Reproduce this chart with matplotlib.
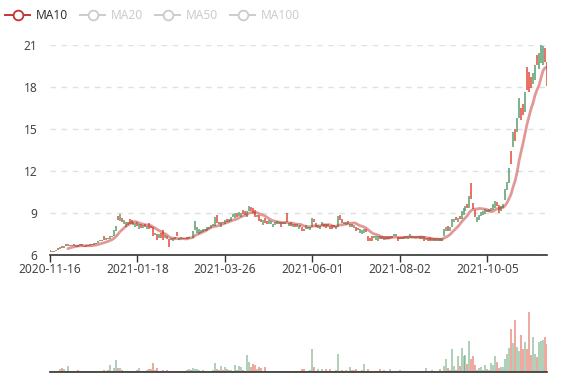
import numpy as np
import pandas as pd
import matplotlib
matplotlib.use("Agg")
import matplotlib.pyplot as plt
from matplotlib.lines import Line2D

plt.rcParams['font.family'] = ['Noto Sans', 'DejaVu Sans']

# category labels shown on the x axis (every 44th trading day)
tick_labels = ['2020-11-16', '2021-01-18', '2021-03-26', '2021-06-01', '2021-08-02', '2021-10-05']
tick_index = [0, 44, 88, 132, 176, 220]

# daily open / close
opens = [
    6.30, 6.15, 6.28, 6.22, 6.45, 6.40, 6.60, 6.50, 6.72, 6.62,
    6.70, 6.60, 6.72, 6.55, 6.70, 6.60, 6.75, 6.58, 6.55, 6.70,
    6.62, 6.75, 6.70, 6.85, 6.80, 6.95, 7.05, 7.35, 7.05, 7.15,
    7.12, 7.30, 7.30, 7.70, 8.75, 8.40, 8.60, 8.20, 8.00, 8.30,
    8.55, 8.50, 8.10, 7.95, 8.30, 7.85, 8.15, 7.90, 8.20, 7.85,
    8.25, 8.05, 7.95, 7.40, 7.50, 7.20, 7.55, 7.75, 7.20, 7.30,
    7.10, 7.05, 7.00, 7.25, 7.60, 7.05, 7.10, 7.20, 7.10, 7.22,
    7.12, 7.20, 7.15, 7.75, 7.55, 7.50, 7.55, 7.60, 7.65, 7.70,
    7.80, 7.90, 8.05, 8.05, 8.80, 8.35, 7.95, 8.35, 8.20, 8.55,
    8.30, 8.40, 8.70, 8.60, 8.95, 8.75, 8.70, 9.20, 9.10, 8.65,
    9.10, 9.40, 9.30, 9.20, 8.65, 8.80, 8.55, 8.10, 8.60, 8.40,
    8.15, 8.20, 7.95, 8.10, 8.20, 8.15, 8.35, 8.15, 8.20, 8.95,
    8.05, 8.30, 7.95, 8.15, 8.00, 7.85, 8.10, 8.00, 7.85, 7.85,
    7.80, 7.75, 7.95, 8.55, 8.25, 7.90, 7.85, 8.05, 8.20, 8.15,
    7.95, 8.05, 8.10, 8.10, 7.85, 7.95, 8.80, 8.55, 8.15, 8.10,
    8.40, 8.00, 8.20, 7.90, 7.95, 7.90, 7.55, 7.50, 7.55, 7.85,
    7.35, 7.20, 7.30, 7.15, 7.05, 6.95, 7.30, 7.30, 7.05, 7.30,
    7.30, 7.10, 7.35, 7.30, 7.30, 7.25, 7.25, 7.25, 7.10, 7.30,
    7.10, 7.20, 7.35, 7.15, 7.35, 7.15, 7.35, 7.10, 7.30, 7.05,
    7.20, 7.25, 7.00, 7.20, 6.95, 6.95, 7.20, 7.00, 7.30, 7.65,
    8.05, 7.70, 8.00, 8.35, 8.70, 8.30, 8.75, 8.55, 8.85, 9.15,
    9.65, 9.30, 11.15, 9.70, 9.20, 8.30, 8.50, 8.75, 8.80, 8.90,
    9.20, 9.05, 9.10, 9.20, 9.35, 9.75, 9.55, 9.15, 9.30, 9.90,
    10.60, 11.10, 13.40, 13.70, 15.00, 14.80, 15.75, 16.50, 16.80, 16.20,
    19.40, 19.10, 18.70, 18.20, 18.50, 20.30, 19.30, 19.70, 19.60, 20.75, 19.80,
]
closes = [
    6.15, 6.22, 6.20, 6.35, 6.32, 6.55, 6.45, 6.62, 6.58, 6.75,
    6.62, 6.68, 6.58, 6.65, 6.55, 6.72, 6.60, 6.52, 6.68, 6.62,
    6.72, 6.68, 6.82, 6.78, 6.95, 7.05, 7.00, 7.05, 7.15, 7.10,
    7.30, 7.25, 7.75, 8.05, 8.50, 8.90, 8.30, 8.45, 8.35, 8.10,
    8.20, 8.15, 8.35, 8.25, 8.05, 8.20, 7.90, 8.10, 7.95, 8.05,
    7.80, 7.90, 7.30, 7.55, 7.05, 7.45, 7.15, 7.05, 7.40, 7.10,
    6.55, 7.20, 7.20, 7.10, 7.30, 7.20, 7.22, 7.10, 7.20, 7.12,
    7.25, 7.15, 7.70, 8.40, 7.95, 7.80, 7.75, 7.85, 7.85, 7.95,
    8.00, 8.10, 8.20, 8.65, 8.25, 8.20, 8.35, 8.25, 8.45, 8.35,
    8.55, 8.70, 8.90, 8.95, 8.70, 9.05, 8.95, 8.90, 8.85, 9.10,
    9.50, 9.15, 8.95, 8.70, 8.85, 8.40, 8.35, 8.45, 8.25, 8.20,
    8.45, 8.40, 8.20, 8.35, 8.40, 8.30, 7.95, 8.30, 8.30, 8.30,
    8.25, 8.05, 8.20, 7.95, 8.20, 8.05, 7.95, 7.70, 7.70, 8.10,
    8.00, 8.00, 8.60, 8.30, 7.95, 8.10, 8.05, 8.35, 7.95, 7.90,
    8.20, 7.80, 7.85, 7.95, 8.05, 8.75, 8.45, 8.25, 8.35, 8.30,
    8.15, 8.20, 8.00, 8.10, 7.70, 7.75, 7.85, 7.75, 7.85, 7.60,
    6.95, 7.00, 6.95, 7.35, 7.30, 7.35, 7.10, 7.10, 7.30, 7.10,
    7.10, 7.35, 7.20, 7.45, 7.45, 6.95, 7.10, 7.10, 7.35, 7.15,
    7.30, 7.45, 7.15, 7.35, 7.15, 7.30, 7.10, 7.30, 6.95, 7.20,
    7.00, 6.95, 7.15, 7.00, 7.15, 7.15, 6.95, 7.15, 7.85, 8.00,
    7.70, 7.95, 8.55, 8.55, 8.45, 8.60, 8.55, 9.15, 9.35, 9.50,
    9.30, 10.20, 9.95, 9.25, 8.70, 8.70, 8.85, 9.05, 9.15, 9.25,
    9.05, 9.25, 9.35, 9.60, 9.80, 9.45, 8.95, 9.45, 9.60, 10.70,
    11.20, 12.20, 12.50, 14.80, 14.10, 15.75, 17.20, 15.60, 16.00, 17.65,
    17.80, 17.65, 17.90, 19.00, 19.60, 19.60, 20.40, 21.00, 20.95, 19.80, 18.10,
]
# traded volume (relative units)
volumes = [
    3, 2, 3, 3, 4, 10, 11, 8, 3, 18,
    3, 2, 4, 2, 5, 3, 2, 3, 2, 2,
    2, 3, 4, 4, 4, 3, 2, 5, 4, 5,
    20, 4, 12, 38, 12, 12, 5, 3, 3, 4,
    3, 2, 4, 3, 6, 12, 3, 2, 4, 6,
    10, 10, 28, 5, 12, 4, 3, 5, 3, 6,
    4, 3, 3, 3, 4, 3, 2, 3, 3, 6,
    8, 6, 12, 10, 8, 6, 4, 5, 4, 3,
    3, 4, 5, 28, 10, 6, 18, 5, 14, 10,
    6, 5, 4, 22, 6, 18, 15, 5, 4, 52,
    30, 16, 24, 22, 8, 14, 12, 4, 16, 4,
    3, 4, 3, 2, 3, 3, 2, 3, 2, 4,
    3, 2, 3, 3, 2, 3, 3, 10, 10, 3,
    3, 5, 70, 16, 3, 10, 4, 8, 3, 8,
    3, 8, 3, 4, 6, 55, 4, 5, 3, 6,
    4, 14, 6, 5, 10, 4, 3, 5, 24, 4,
    8, 3, 4, 3, 3, 4, 8, 3, 6, 4,
    3, 8, 3, 4, 3, 4, 6, 3, 2, 3,
    2, 3, 2, 3, 2, 2, 3, 3, 4, 12,
    4, 3, 5, 3, 3, 3, 10, 4, 18, 40,
    12, 6, 70, 18, 6, 50, 18, 72, 50, 52,
    24, 96, 40, 50, 20, 6, 12, 14, 5, 20,
    10, 6, 26, 20, 48, 30, 12, 16, 16, 40,
    55, 72, 130, 88, 160, 76, 64, 112, 70, 90,
    70, 184, 52, 108, 54, 46, 90, 94, 98, 106, 84,
]
legend_names = ['MA10', 'MA20', 'MA50', 'MA100']

up_color = '#5a9e6f'
down_color = '#dd4b39'
ma_color = '#c23531'

W, H = 577, 380
fig = plt.figure(figsize=(W / 100, H / 100), dpi=100)


def box(l, t, r, b):
    return [l / W, 1 - b / H, (r - l) / W, (b - t) / H]


ax = fig.add_axes(box(50, 45, 547, 254.5))
vax = fig.add_axes(box(50, 290, 547, 372))

x = np.arange(len(closes))
o = np.array(opens)
c = np.array(closes)
colors = [up_color if cc >= oo else down_color for oo, cc in zip(opens, closes)]

# candles: bodies are only ~1.5 px wide, so draw them as short vertical strokes
lo = np.minimum(o, c)
hi = np.maximum(np.maximum(o, c), lo + 0.06)
ax.vlines(x, lo, hi, colors=colors, lw=1.1, zorder=3)

# MA10
ma10 = pd.Series(c).rolling(10).mean()
ax.plot(x, ma10, color=ma_color, alpha=0.5, lw=2.0, solid_capstyle='round', zorder=4)

ax.set_xlim(0, len(closes) - 1)
ax.set_ylim(6, 21)
ax.set_yticks(range(6, 22, 3))
ax.yaxis.grid(True, linestyle=(0, (4, 4)), color='#e0e0e0', linewidth=1)
ax.set_axisbelow(True)
for s in ['left', 'right', 'top']:
    ax.spines[s].set_visible(False)
ax.spines['bottom'].set_color('#333333')
ax.spines['bottom'].set_linewidth(1.2)
ax.set_xticks(tick_index)
ax.set_xticklabels(tick_labels)
ax.tick_params(axis='x', length=5, width=1, color='#333333', labelsize=8.6, labelcolor='#444444', pad=1)
ax.tick_params(axis='y', length=0, labelsize=8.6, labelcolor='#444444', pad=9)

# volume
vax.vlines(x, 0, volumes, colors=colors, alpha=0.55, lw=1.25)
vax.set_xlim(0, len(closes) - 1)
vax.set_ylim(0, 250)
vax.set_xticks([])
vax.set_yticks([])
for s in ['left', 'right', 'top']:
    vax.spines[s].set_visible(False)
vax.spines['bottom'].set_color('#333333')
vax.spines['bottom'].set_linewidth(1.2)

# legend drawn in pixel coordinates
lax = fig.add_axes([0, 0, 1, 1])
lax.set_xlim(0, W)
lax.set_ylim(H, 0)
lax.axis('off')
lx = [5, 80, 155, 230]
for i, name in enumerate(legend_names):
    col = ma_color if i == 0 else '#cccccc'
    tcol = '#333333' if i == 0 else '#cccccc'
    lax.add_line(Line2D([lx[i], lx[i] + 25], [15, 15], color=col, lw=1.4))
    lax.plot(lx[i] + 12.5, 15, 'o', ms=7, mfc='white', mec=col, mew=1.3)
    lax.text(lx[i] + 31, 15.5, name, color=tcol, fontsize=8.6, va='center', ha='left')

fig.savefig('out.png', dpi=100)
